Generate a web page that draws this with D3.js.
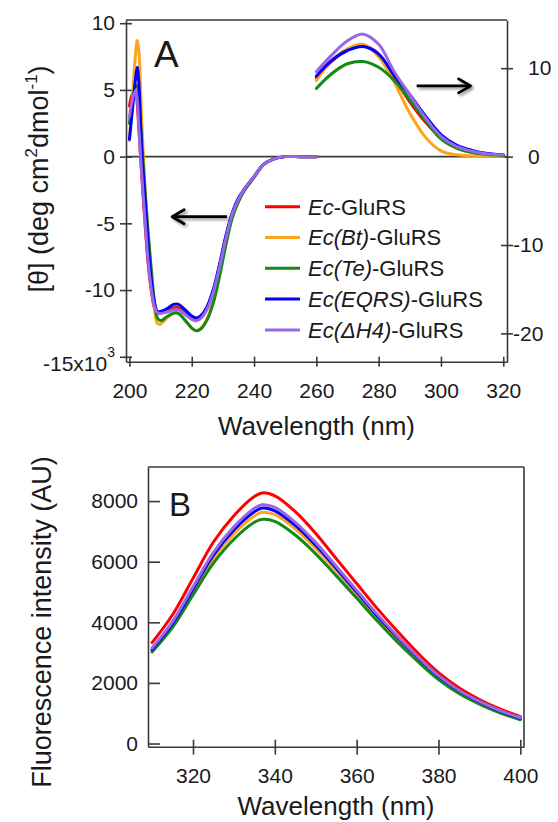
<!DOCTYPE html>
<html>
<head>
<meta charset="utf-8">
<script src="https://cdn.jsdelivr.net/npm/d3@7"></script>
<style>
  body { margin: 0; background: #fff; }
  svg text { font-family: "Liberation Sans", Arial, Helvetica, sans-serif; fill: #1a1a1a; }
</style>
</head>
<body>
<div id="chart"></div>
<script>
// ---- data ----

// panel A, far UV (left axis, x10^3 deg cm2 dmol-1)
var farNm = [200, 201, 202, 202.5, 203, 204, 205, 206, 207, 208, 209, 210, 212, 214, 215, 216, 218, 220, 221.5, 223, 225, 227, 229, 231, 233, 235, 237, 240, 243, 246, 250, 255, 260];
var farEc = [3.8, 4.7, 4.9, 4.0, 2.2, -1.6, -5.0, -8.0, -10.0, -11.3, -11.7, -11.7, -11.55, -11.35, -11.3, -11.35, -11.7, -12.1, -12.2, -12.0, -11.3, -10.0, -8.1, -6.0, -4.3, -3.2, -2.4, -1.5, -0.6, -0.2, 0, 0, 0];
var farBt = [1.2, 4.5, 7.8, 8.7, 8.0, 2.3, -2.3, -5.8, -9.0, -11.4, -12.5, -12.55, -12.1, -11.75, -11.7, -11.8, -12.3, -12.85, -13.05, -12.85, -12.1, -10.7, -8.6, -6.4, -4.5, -3.3, -2.5, -1.55, -0.6, -0.2, 0, 0, 0];
var farTe = [2.5, 4.2, 5.3, 5.3, 4.3, 1.0, -2.6, -5.7, -8.4, -10.8, -12.1, -12.3, -12.0, -11.75, -11.7, -11.8, -12.3, -12.85, -13.05, -12.9, -12.2, -10.9, -8.9, -6.6, -4.6, -3.4, -2.5, -1.55, -0.6, -0.2, 0, 0, 0];
var farEqrs = [1.3, 3.6, 5.9, 6.7, 5.6, 0.2, -3.1, -6.5, -9.2, -10.9, -11.6, -11.6, -11.4, -11.1, -11.05, -11.1, -11.5, -11.95, -12.1, -11.9, -11.2, -9.9, -8.0, -5.9, -4.2, -3.1, -2.4, -1.5, -0.6, -0.2, 0, 0, 0];
var farDh4 = [3.0, 4.3, 5.0, 4.3, 2.3, -1.5, -4.8, -7.8, -9.9, -11.2, -11.7, -11.75, -11.65, -11.5, -11.45, -11.5, -11.85, -12.2, -12.3, -12.1, -11.4, -10.1, -8.2, -6.1, -4.3, -3.2, -2.4, -1.5, -0.6, -0.2, 0, 0, 0];

// panel A, near UV (right axis)
var nearNm = [260, 265, 270, 275, 280, 285, 290, 295, 300, 305, 310, 315, 320];
var nearEc = [8.9, 10.8, 12.1, 12.5, 11.6, 8.9, 6.2, 3.9, 2.1, 1.0, 0.5, 0.25, 0.15];
var nearBt = [8.6, 10.9, 12.2, 12.7, 11.3, 8.4, 4.9, 2.2, 0.65, 0.2, 0.08, 0.05, 0.05];
var nearTe = [7.7, 9.4, 10.5, 10.75, 10.1, 8.6, 6.4, 4.1, 2.0, 0.95, 0.45, 0.25, 0.15];
var nearEqrs = [9.1, 10.9, 12.0, 12.45, 11.6, 9.2, 7.0, 4.6, 2.5, 1.3, 0.7, 0.35, 0.2];
var nearDh4 = [9.6, 11.5, 13.1, 13.85, 12.7, 9.6, 7.0, 4.4, 2.3, 1.15, 0.6, 0.3, 0.2];

// panel B, fluorescence
var fluNm = [310, 315, 320, 325, 330, 335, 337, 340, 345, 350, 355, 360, 365, 370, 375, 380, 385, 390, 395, 400];
var fluEc = [3330, 4250, 5450, 6650, 7520, 8150, 8270, 8170, 7650, 6930, 6100, 5280, 4460, 3700, 2980, 2340, 1840, 1450, 1140, 890];
var fluBt = [3050, 3900, 5000, 6100, 6920, 7510, 7630, 7550, 7080, 6440, 5700, 4930, 4160, 3450, 2790, 2180, 1710, 1350, 1050, 815];
var fluTe = [3020, 3830, 4900, 5950, 6740, 7300, 7400, 7330, 6880, 6260, 5540, 4800, 4050, 3340, 2700, 2110, 1650, 1300, 1010, 785];
var fluEqrs = [3100, 3960, 5090, 6220, 7050, 7650, 7770, 7680, 7200, 6540, 5780, 5000, 4220, 3500, 2830, 2220, 1740, 1370, 1070, 835];
var fluDh4 = [3150, 4020, 5170, 6310, 7150, 7760, 7880, 7790, 7300, 6630, 5850, 5060, 4270, 3540, 2860, 2240, 1760, 1390, 1090, 850];

var legendItalic = ['Ec', 'Ec(Bt)', 'Ec(Te)', 'Ec(EQRS)', 'Ec(\u0394H4)'];
var legendRest = '-GluRS';

var aLeftTicks = [-15, -10, -5, 0, 5, 10];
var aRightTicks = [-20, -10, 0, 10];
var aXTicks = [200, 220, 240, 260, 280, 300, 320];
var bYTicks = [0, 2000, 4000, 6000, 8000];
var bXTicks = [320, 340, 360, 380, 400];

// ---- set up ----

var svgWidth = 558;
var svgHeight = 822;
var lineColors = ['#ff0000', '#ffa31a', '#148a14', '#0000ff', '#9966e6'];
var axisColor = '#3a3a3a';
var tickFont = 21;

var svg = d3.select('#chart')
  .append('svg')
  .attr('width', svgWidth)
  .attr('height', svgHeight);

var defs = svg.append('defs');
var shadow = defs.append('filter').attr('id', 'shadow')
  .attr('x', '-20%').attr('y', '-100%').attr('width', '140%').attr('height', '300%');
shadow.append('feGaussianBlur').attr('in', 'SourceAlpha').attr('stdDeviation', 1.4);
shadow.append('feOffset').attr('dx', 1.5).attr('dy', 2).attr('result', 'off');
shadow.append('feComponentTransfer').append('feFuncA').attr('type', 'linear').attr('slope', 0.45);
var merge = shadow.append('feMerge');
merge.append('feMergeNode');
merge.append('feMergeNode').attr('in', 'SourceGraphic');

function styleAxis(g) {
  g.select('.domain').attr('stroke', axisColor).attr('stroke-width', 1.6);
  g.selectAll('.tick line').attr('stroke', axisColor).attr('stroke-width', 1.6);
  g.selectAll('.tick text').attr('font-size', tickFont).attr('fill', '#1a1a1a');
}

function frameLine(x1, y1, x2, y2) {
  svg.append('line')
    .attr('x1', x1).attr('y1', y1).attr('x2', x2).attr('y2', y2)
    .attr('stroke', axisColor).attr('stroke-width', 1.6);
}

function drawSeries(xs, series, xScale, yScale) {
  var line = d3.line()
    .x(function(d, i) { return xScale(xs[i]); })
    .y(function(d) { return yScale(d); })
    .curve(d3.curveCatmullRom.alpha(0.5));
  series.forEach(function(s, i) {
    svg.append('path')
      .attr('d', line(s))
      .attr('fill', 'none')
      .attr('stroke', lineColors[i])
      .attr('stroke-width', 3)
      .attr('stroke-linejoin', 'round')
      .attr('stroke-linecap', 'round');
  });
}

function drawArrow(x1, x2, y) {
  var dir = x2 > x1 ? 1 : -1;
  var g = svg.append('g').attr('filter', 'url(#shadow)');
  g.append('line')
    .attr('x1', x1).attr('y1', y).attr('x2', x2).attr('y2', y)
    .attr('stroke', '#000').attr('stroke-width', 2.8);
  g.append('path')
    .attr('d', 'M' + (x2 - dir * 12) + ',' + (y - 7) + 'L' + x2 + ',' + y + 'L' + (x2 - dir * 12) + ',' + (y + 7))
    .attr('fill', 'none').attr('stroke', '#000').attr('stroke-width', 2.8)
    .attr('stroke-linejoin', 'round').attr('stroke-linecap', 'round');
}

// ---- panel A ----

var xA = d3.scaleLinear().domain([198.9, 321.2]).range([126, 507]);
var yA = d3.scaleLinear().domain([-15.37, 10.24]).range([361.7, 20]);
var yA2 = d3.scaleLinear().domain([-23.2, 15.45]).range([361.7, 20]);

// zero line and top frame
frameLine(xA.range()[0], yA(0), xA.range()[1], yA(0));
frameLine(xA.range()[0], yA.range()[1], xA.range()[1], yA.range()[1]);

var leftA = svg.append('g')
  .attr('transform', 'translate(' + xA.range()[0] + ',0)')
  .call(d3.axisLeft(yA).tickValues(aLeftTicks).tickSize(6).tickSizeOuter(0).tickPadding(5)
    .tickFormat(function(d) { return String(d); }));
leftA.selectAll('.tick line').attr('x1', 6);
styleAxis(leftA);
var exp = leftA.selectAll('.tick text').filter(function(d) { return d === -15; });
exp.text('-15x10').attr('y', 7);
exp.append('tspan').attr('dy', -14).attr('font-size', 14).text('3');

var rightA = svg.append('g')
  .attr('transform', 'translate(' + xA.range()[1] + ',0)')
  .call(d3.axisRight(yA2).tickValues(aRightTicks).tickSize(6).tickSizeOuter(0)
    .tickFormat(function(d) { return String(d); }));
rightA.selectAll('.tick line').attr('x1', -6);
styleAxis(rightA);
rightA.selectAll('.tick text').attr('x', function(d) { return d < 0 ? 6 : 21; });

var bottomA = svg.append('g')
  .attr('transform', 'translate(0,' + yA.range()[0] + ')')
  .call(d3.axisBottom(xA).tickValues(aXTicks).tickSize(5).tickSizeOuter(0).tickPadding(16));
bottomA.selectAll('.tick line').attr('y1', -5);
styleAxis(bottomA);

drawSeries(farNm, [farEc, farBt, farTe, farEqrs, farDh4], xA, yA);
drawSeries(nearNm, [nearEc, nearBt, nearTe, nearEqrs, nearDh4], xA, yA2);

drawArrow(xA(231.3), xA(213.7), yA(-4.5));
drawArrow(xA(292.2), xA(309.5), yA2(8.0));

svg.append('text').attr('x', 154).attr('y', 67).attr('font-size', 37).text('A');

// legend
var legend = svg.append('g');
legendItalic.forEach(function(name, i) {
  var y = 206.7 + i * 30.8;
  legend.append('line')
    .attr('x1', 265).attr('x2', 300).attr('y1', y).attr('y2', y)
    .attr('stroke', lineColors[i]).attr('stroke-width', 3);
  var t = legend.append('text').attr('x', 308).attr('y', y).attr('dy', '0.36em').attr('font-size', 22);
  t.append('tspan').attr('font-style', 'italic').text(name);
  t.append('tspan').text(legendRest);
});

// axis titles A
var yTitleA = svg.append('text')
  .attr('transform', 'translate(48,179)rotate(-90)')
  .attr('text-anchor', 'middle')
  .attr('font-size', 27);
yTitleA.append('tspan').text('[\u03b8] (deg cm');
yTitleA.append('tspan').attr('dy', -11).attr('font-size', 17).text('2');
yTitleA.append('tspan').attr('dy', 11).text('dmol');
yTitleA.append('tspan').attr('dy', -11).attr('font-size', 17).text('-1');
yTitleA.append('tspan').attr('dy', 11).text(')');

svg.append('text')
  .attr('x', (xA.range()[0] + xA.range()[1]) / 2).attr('y', 435)
  .attr('text-anchor', 'middle').attr('font-size', 26)
  .text('Wavelength (nm)');

// ---- panel B ----

var xB = d3.scaleLinear().domain([309, 400.9]).range([148, 524]);
var yB = d3.scaleLinear().domain([-105, 9125]).range([746.7, 467]);

frameLine(xB.range()[0], yB.range()[1], xB.range()[1], yB.range()[1]);
frameLine(xB.range()[1], yB.range()[1], xB.range()[1], yB.range()[0]);

var leftB = svg.append('g')
  .attr('transform', 'translate(' + xB.range()[0] + ',0)')
  .call(d3.axisLeft(yB).tickValues(bYTicks).tickSizeInner(-12).tickSizeOuter(0).tickPadding(10)
    .tickFormat(function(d) { return String(d); }));
styleAxis(leftB);

var bottomB = svg.append('g')
  .attr('transform', 'translate(0,' + yB.range()[0] + ')')
  .call(d3.axisBottom(xB).tickValues(bXTicks).tickSize(8).tickSizeOuter(0).tickPadding(13));
bottomB.selectAll('.tick line').attr('y1', -7);
styleAxis(bottomB);

drawSeries(fluNm, [fluEc, fluBt, fluTe, fluEqrs, fluDh4], xB, yB);

svg.append('text').attr('x', 169).attr('y', 516).attr('font-size', 33).text('B');

svg.append('text')
  .attr('transform', 'translate(51,622)rotate(-90)')
  .attr('text-anchor', 'middle')
  .attr('font-size', 27)
  .text('Fluorescence intensity (AU)');

svg.append('text')
  .attr('x', (xB.range()[0] + xB.range()[1]) / 2).attr('y', 815)
  .attr('text-anchor', 'middle').attr('font-size', 26)
  .text('Wavelength (nm)');
</script>
</body>
</html>
